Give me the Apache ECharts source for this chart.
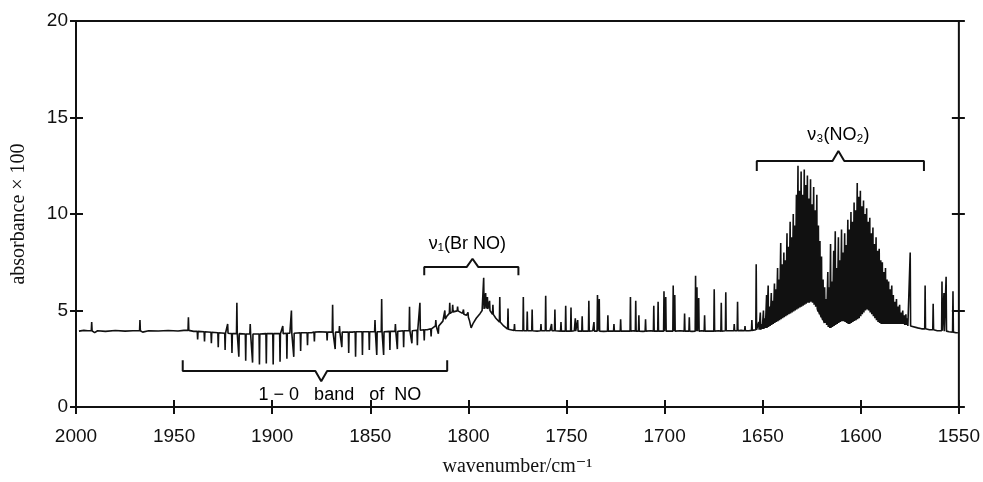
<!DOCTYPE html>
<html>
<head>
<meta charset="utf-8">
<title>absorbance spectrum</title>
<script src="https://cdn.jsdelivr.net/npm/echarts/dist/echarts.min.js"></script>
<style>
html, body { margin: 0; padding: 0; background: #fff; }
#spectrum { width: 983px; height: 482px; }
</style>
</head>
<body>
<div id="spectrum"></div>
<script>
// baseline between the lines: [wavenumber, absorbance x 100]
var baseline = [
	[1998.5, 3.93], [1996, 3.97], [1994, 3.95], [1990.5, 3.85], [1989, 3.95], [1985, 3.92], [1980, 3.96],
	[1975, 3.93], [1971, 3.95], [1966, 3.88], [1963, 3.95], [1958, 3.94], [1953, 3.96], [1948, 3.94],
	[1945, 3.97], [1940, 3.92], [1930, 3.85], [1920, 3.8], [1908.5, 3.78], [1901, 3.8], [1891, 3.82],
	[1880, 3.85], [1876, 3.9], [1870.5, 3.88], [1859.2, 3.88], [1849, 3.9], [1838.5, 3.92], [1831.5, 3.95],
	[1821, 4.0], [1818, 4.05], [1814.2, 4.3], [1813, 4.45], [1811, 4.7], [1809, 4.9], [1807, 4.95],
	[1805, 5.0], [1803, 4.85], [1801, 4.75], [1799.5, 4.5], [1798.6, 4.1], [1797.5, 4.35], [1796, 4.6],
	[1794, 4.85], [1793, 5.0], [1788.5, 4.9], [1786, 4.6], [1785, 4.5], [1782, 4.2], [1781, 4.1],
	[1778.6, 3.98], [1775.5, 3.95], [1769, 3.95], [1765, 3.93], [1758.4, 3.95], [1752, 3.92], [1746, 3.95],
	[1740, 3.93], [1736.6, 3.95], [1731, 3.92], [1725, 3.95], [1720, 3.93], [1716, 3.95], [1711, 3.92],
	[1707, 3.95], [1697, 3.93], [1692, 3.95], [1686, 3.92], [1681, 3.95], [1677, 3.93], [1672.5, 3.95],
	[1666, 3.95], [1661, 3.97], [1657, 3.95], [1654.5, 4.0],
	[1574, 4.2], [1571, 4.1], [1569, 4.05], [1565, 4.0], [1561, 3.95], [1555, 3.9], [1551.5, 3.85], [1550.5, 3.85]
];

// lines: [wavenumber, top, foot]  (top below foot = absorption dip of NO)
var noLines = [
	[1992, 4.4, 3.95], [1967.4, 4.5, 3.95], [1942.7, 4.65, 3.97],
	[1938, 3.5, 3.92], [1934.5, 3.4, 3.9], [1931, 3.3, 3.87], [1927.5, 3.1, 3.85], [1924, 2.95, 3.82],
	[1922.7, 4.3, 3.82], [1920.5, 2.8, 3.8], [1918, 5.4, 3.8], [1917, 2.6, 3.8], [1913.5, 2.4, 3.78],
	[1911.2, 4.3, 3.78], [1910, 2.3, 3.78], [1906.5, 2.2, 3.78], [1903, 2.25, 3.8], [1899.5, 2.2, 3.8],
	[1896, 2.35, 3.8], [1894.6, 4.2, 3.8], [1892.5, 2.5, 3.82], [1890.2, 5.0, 3.82], [1889, 2.6, 3.82],
	[1885.5, 2.9, 3.85], [1882, 3.2, 3.85], [1878.5, 3.4, 3.88], [1872, 3.45, 3.88], [1869.2, 5.3, 3.88],
	[1867.9, 3.0, 3.88], [1865.7, 4.2, 3.88], [1864.5, 3.1, 3.88], [1861, 2.8, 3.88], [1857.5, 2.6, 3.9],
	[1854, 2.7, 3.9], [1850.5, 2.95, 3.9], [1847.6, 4.5, 3.9], [1846.7, 2.7, 3.9], [1844.2, 5.6, 3.9],
	[1843.2, 2.7, 3.9], [1840, 2.95, 3.92], [1837.2, 4.3, 3.92], [1836.2, 3.0, 3.92], [1833, 3.1, 3.95],
	[1830, 5.2, 3.95], [1828.8, 3.3, 3.95], [1826, 3.2, 3.98], [1824.7, 5.4, 3.98], [1822.5, 3.45, 4.0],
	[1819, 3.65, 4.05], [1816.6, 4.5, 4.2], [1815.3, 3.8, 4.2]
];

var brnoLines = [
	[1812, 5.0, 4.55], [1809.5, 5.4, 4.85], [1808, 5.3, 4.93], [1805.5, 5.2, 4.98], [1802.5, 5.05, 4.8],
	[1800.2, 4.9, 4.65], [1792.2, 6.7, 5.08], [1791.2, 5.9, 5.1], [1790.3, 5.7, 5.08], [1789.2, 5.5, 5.0],
	[1787.5, 5.3, 4.8], [1784, 5.7, 4.4], [1779.8, 5.1, 4.03], [1776.5, 4.3, 3.96]
];

var sparseLines = [
	[1772, 5.7, 3.95], [1770, 4.95, 3.95], [1767.5, 5.05, 3.95], [1763, 4.3, 3.95], [1760.6, 5.77, 3.95],
	[1757.6, 4.3, 3.95], [1755.9, 5.05, 3.95], [1752.8, 4.4, 3.93], [1750.4, 5.25, 3.93], [1747.7, 5.15, 3.93],
	[1745.5, 4.6, 3.93], [1744.3, 4.5, 3.93], [1742, 4.7, 3.93], [1738.6, 5.5, 3.93], [1736, 4.4, 3.93],
	[1734.2, 5.8, 3.93], [1733.3, 5.6, 3.93], [1728.9, 4.75, 3.93], [1725.8, 4.3, 3.93], [1722.4, 4.55, 3.93],
	[1717.4, 5.7, 3.93], [1714.7, 5.5, 3.93], [1713.1, 4.75, 3.93], [1709.7, 4.55, 3.93], [1705.5, 5.25, 3.93],
	[1703.3, 5.45, 3.93], [1700.3, 6.0, 3.93], [1699.4, 5.7, 3.93], [1695.6, 6.3, 3.93], [1694.8, 5.8, 3.93],
	[1689.8, 4.85, 3.93], [1687.4, 4.65, 3.93], [1684.2, 6.8, 3.93], [1683.5, 6.2, 3.93], [1682.6, 5.65, 3.93],
	[1679.6, 4.75, 3.93], [1674.7, 6.1, 3.93], [1671.1, 5.4, 3.93], [1668.8, 5.95, 3.95], [1664.5, 4.3, 3.95],
	[1662.8, 5.45, 3.95], [1659, 4.2, 3.95], [1655.5, 4.5, 3.97], [1653.3, 7.4, 4.0]
];

var no2Lines = [
	[1652.0, 4.4, 4.0], [1651.2, 4.9, 4.0], [1650.4, 4.3, 4.05], [1649.6, 5.0, 4.05], [1648.8, 4.6, 4.1],
	[1648.0, 5.8, 4.1], [1647.2, 6.3, 4.15], [1646.4, 5.2, 4.2], [1645.6, 5.9, 4.25], [1644.8, 5.5, 4.3],
	[1644.0, 6.4, 4.35], [1643.2, 6.1, 4.4], [1642.4, 7.2, 4.45], [1641.6, 6.6, 4.5], [1640.8, 8.5, 4.55],
	[1640.0, 7.4, 4.6], [1639.2, 8.0, 4.65], [1638.4, 7.6, 4.7], [1637.6, 9.0, 4.75], [1636.8, 8.3, 4.8],
	[1636.0, 9.6, 4.85], [1635.2, 8.8, 4.9], [1634.4, 10.0, 4.95], [1633.6, 9.4, 5.0], [1632.8, 11.0, 5.05],
	[1632.0, 12.5, 5.1], [1631.2, 11.2, 5.15], [1630.4, 12.2, 5.2], [1629.6, 11.0, 5.25], [1628.8, 12.3, 5.3],
	[1628.0, 11.5, 5.35], [1627.2, 12.0, 5.4], [1626.4, 10.8, 5.4], [1625.6, 11.8, 5.45], [1624.8, 10.5, 5.4],
	[1624.0, 11.4, 5.3], [1623.2, 10.2, 5.2], [1622.4, 11.0, 5.1], [1621.6, 9.4, 4.95], [1620.8, 8.6, 4.8],
	[1620.0, 7.8, 4.65], [1619.2, 6.6, 4.5], [1618.4, 6.2, 4.35], [1617.6, 5.6, 4.25], [1616.8, 7.0, 4.15],
	[1616.0, 6.2, 4.1], [1615.4, 8.45, 4.1], [1614.6, 6.5, 4.15], [1613.8, 8.1, 4.2], [1613.0, 9.1, 4.25],
	[1612.2, 7.2, 4.3], [1611.4, 8.8, 4.35], [1610.6, 7.6, 4.4], [1609.8, 9.2, 4.45], [1609.0, 8.0, 4.45],
	[1608.2, 9.0, 4.4], [1607.4, 8.4, 4.35], [1606.6, 9.7, 4.3], [1605.8, 9.2, 4.3], [1605.0, 10.1, 4.35],
	[1604.2, 9.6, 4.4], [1603.4, 10.6, 4.45], [1602.6, 10.2, 4.5], [1601.8, 11.6, 4.55], [1601.0, 10.9, 4.6],
	[1600.2, 11.2, 4.7], [1599.4, 10.4, 4.8], [1598.6, 10.7, 4.9], [1597.8, 10.0, 5.0], [1597.0, 10.3, 5.05],
	[1596.2, 9.6, 5.0], [1595.4, 9.8, 4.9], [1594.6, 9.0, 4.8], [1593.8, 9.3, 4.7], [1593.0, 8.45, 4.6],
	[1592.2, 8.8, 4.5], [1591.4, 8.1, 4.4], [1590.6, 8.2, 4.35], [1589.8, 7.6, 4.3], [1589.0, 7.5, 4.3],
	[1588.2, 7.0, 4.3], [1587.4, 7.2, 4.3], [1586.6, 6.6, 4.3], [1585.8, 6.5, 4.3], [1585.0, 6.1, 4.3],
	[1584.2, 6.3, 4.3], [1583.4, 5.8, 4.3], [1582.6, 5.45, 4.3], [1581.8, 5.6, 4.3], [1581.0, 5.2, 4.3],
	[1580.2, 5.3, 4.3], [1579.4, 4.9, 4.3], [1578.6, 5.0, 4.3], [1577.8, 4.75, 4.25], [1577.0, 4.8, 4.25],
	[1576.2, 4.6, 4.2], [1574.8, 8.0, 4.2]
];

var tailLines = [
	[1567.2, 6.3, 4.05], [1563.1, 5.35, 4.0], [1558.6, 6.5, 3.95], [1557.6, 5.9, 3.93], [1556.5, 6.75, 3.93],
	[1553, 6.0, 3.88]
];

// band assignments: [from, to, level, hook, tip, tipLevel, label x, label y, text]
var bands = [
	[1945.6, 1810.8, 1.86, 2.42, 1875.0, 1.34, 1865.5, 0.64, '1 \u2212 0   band   of  NO'],
	[1822.5, 1774.5, 7.25, 6.82, 1797.9, 7.68, 1800.5, 8.45, '\u03bd\u2081(Br NO)'],
	[1653.0, 1567.8, 12.75, 12.23, 1611.4, 13.26, 1611.4, 14.1, '\u03bd\u2083(NO\u2082)']
];

var chartInit = echarts.init(document.getElementById('spectrum'));

function $each(arr, fn){
	for (var i = 0; i < arr.length; i++) fn(arr[i], i);
}

function buildTrace(){
	var pts = baseline.slice();
	var groups = [noLines, brnoLines, sparseLines, no2Lines, tailLines];
	var d = 0.2;
	$each(groups, function(lines){
		$each(lines, function(l){
			pts.push([l[0] + d, l[2]]);
			pts.push([l[0], l[1]]);
			pts.push([l[0] - d, l[2]]);
		});
	});
	pts.sort(function(a, b){ return b[0] - a[0]; });
	return pts;
}

function bracketLine(b){
	var half = 3;
	return [[b[0], b[3]], [b[0], b[2]], [b[4] + half, b[2]], [b[4], b[5]], [b[4] - half, b[2]], [b[1], b[2]], [b[1], b[3]]];
}

// each frame side gets two axes: one with outward ticks, one with inward ticks
function xAxisOf(pos, inside, showLabel){
	return {
		type: 'value', position: pos, min: 1550, max: 2000, interval: 50, inverse: true,
		axisLine: { show: false },
		axisTick: { show: true, inside: inside, length: inside ? 6 : 7, lineStyle: { color: '#111', width: 2 } },
		axisLabel: {
			show: showLabel, margin: 20, fontFamily: 'Liberation Sans', fontSize: 19, color: '#111',
			formatter: function(v){ return String(v); }
		},
		splitLine: { show: false },
		name: showLabel ? 'wavenumber/cm\u207b\u00b9' : '',
		nameLocation: 'middle', nameGap: 50,
		nameTextStyle: { fontFamily: 'Liberation Serif, DejaVu Serif', fontSize: 20, color: '#111', verticalAlign: 'top' }
	};
}

function yAxisOf(pos, inside, showLabel){
	return {
		type: 'value', position: pos, min: 0, max: 20, interval: 5,
		axisLine: { show: false },
		axisTick: { show: true, inside: inside, length: inside ? 7 : 6, lineStyle: { color: '#111', width: 2 } },
		axisLabel: { show: showLabel, margin: 8, fontFamily: 'Liberation Sans', fontSize: 19, color: '#111' },
		splitLine: { show: false },
		name: showLabel ? 'absorbance \u00d7 100' : '',
		nameLocation: 'middle', nameGap: 47, nameRotate: 90,
		nameTextStyle: { fontFamily: 'Liberation Serif, DejaVu Serif', fontSize: 20, color: '#111' }
	};
}

var series = [{
	name: 'spectrum',
	type: 'line',
	data: buildTrace(),
	showSymbol: false,
	symbol: 'none',
	lineStyle: { color: '#111', width: 1.6 },
	silent: true
}];

$each(bands, function(b){
	series.push({
		type: 'line',
		data: bracketLine(b),
		symbol: 'none',
		lineStyle: { color: '#111', width: 2 },
		silent: true
	});
});

series.push({
	type: 'scatter',
	symbolSize: 0,
	silent: true,
	itemStyle: { color: '#000', opacity: 1 },
	data: bands.map(function(b){
		return {
			value: [b[6], b[7]],
			label: {
				show: true, position: [0, 0], align: 'center', verticalAlign: 'middle', formatter: b[8],
				fontFamily: 'Liberation Sans, DejaVu Sans', fontSize: 18, color: '#000', opacity: 1, textBorderWidth: 0
			}
		};
	})
});

option = {
	backgroundColor: '#fff',
	animation: false,
	grid: { left: 76, right: 20, top: 21, bottom: 73, show: true, borderColor: '#111', borderWidth: 2, backgroundColor: 'transparent' },
	xAxis: [xAxisOf('bottom', false, true), xAxisOf('bottom', true, false), xAxisOf('top', false, false), xAxisOf('top', true, false)],
	yAxis: [yAxisOf('left', false, true), yAxisOf('left', true, false), yAxisOf('right', false, false), yAxisOf('right', true, false)],
	series: series
};
chartInit.setOption(option);
</script>
</body>
</html>
